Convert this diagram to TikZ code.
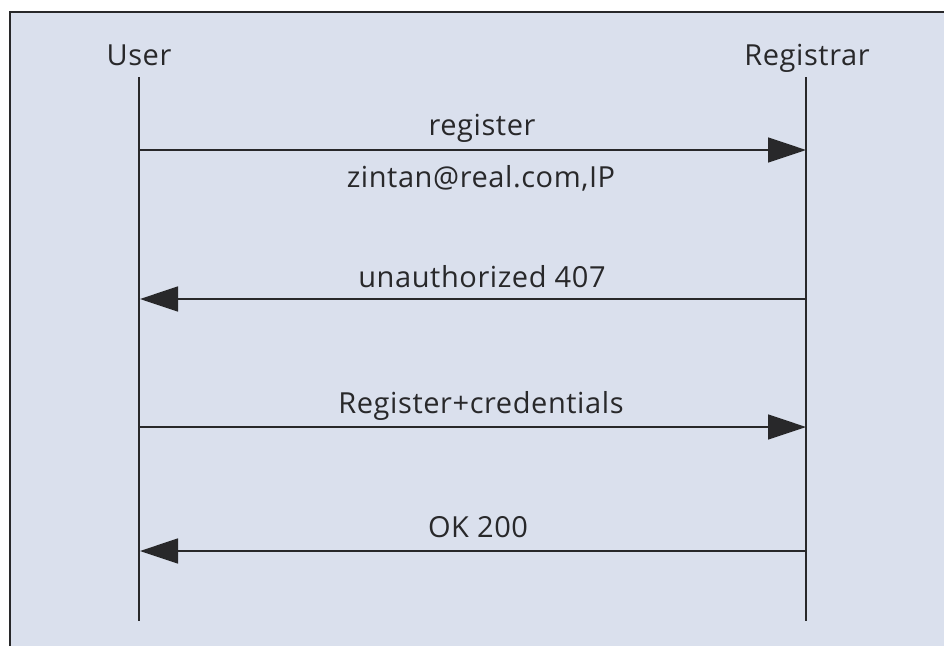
\documentclass[tikz,border=0pt]{standalone}
\usepackage{fontspec}
\setmainfont{Open Sans}[LetterSpace=2]
\usetikzlibrary{arrows.meta}
\definecolor{panel}{RGB}{218,224,237}
\definecolor{ink}{RGB}{40,40,42}
\begin{document}
\begin{tikzpicture}[x=1pt,y=-1pt,
  lifeline/.style={draw=ink,line width=2.2pt},
  msg/.style={draw=ink,line width=1.6pt,-{Triangle[length=38pt,width=25pt]}},
  lbl/.style={text=ink,font=\fontsize{29}{34}\selectfont,inner sep=0pt,anchor=base}]
\useasboundingbox (0,0) rectangle (944,646);
% panel
\fill[panel] (10,12) rectangle (944,646);
\draw[ink,line width=2pt] (10,646) -- (10,12) -- (944,12);
% participants
\node[lbl] (user) at (139,65) {User};
\node[lbl] (reg) at (807,65) {Registrar};
\coordinate (ut) at (139,77);
\coordinate (ub) at (139,621);
\coordinate (rt) at (806,77);
\coordinate (rb) at (806,621);
\draw[lifeline] (ut) -- (ub);
\draw[lifeline] (rt) -- (rb);
% message anchors on the lifelines
\coordinate (u1) at (139,150); \coordinate (r1) at (806,150);
\coordinate (u2) at (140,299); \coordinate (r2) at (806,299);
\coordinate (u3) at (139,427); \coordinate (r3) at (806,427);
\coordinate (u4) at (140,551); \coordinate (r4) at (806,551);
% messages
\draw[msg] (u1) -- (r1);
\draw[msg] (r2) -- (u2);
\draw[msg] (u3) -- (r3);
\draw[msg] (r4) -- (u4);
% labels
\node[lbl] (m1) at (482,135) {register};
\node[lbl] (m1b) at (481,187) {zintan@real.com,IP};
\node[lbl] (m2) at (482,287) {unauthorized 407};
\node[lbl] (m3) at (481,413) {Register+credentials};
\node[lbl] (m4) at (478,537) {OK 200};
\end{tikzpicture}
\end{document}
